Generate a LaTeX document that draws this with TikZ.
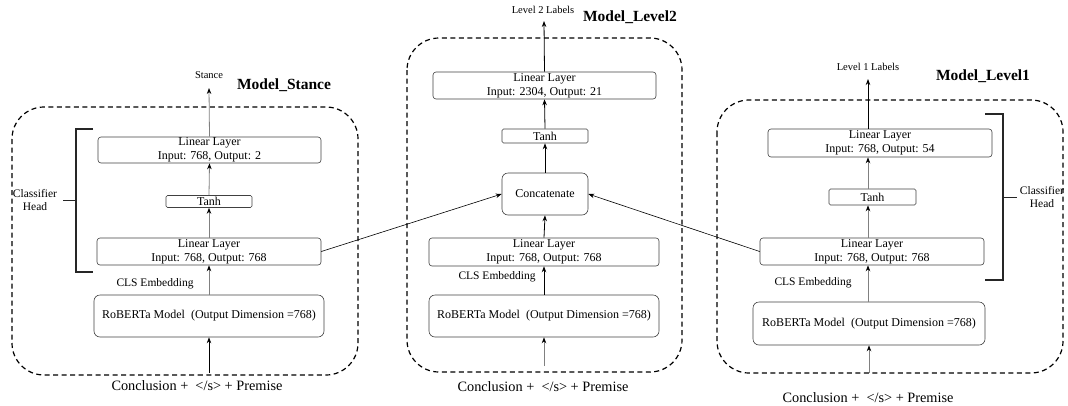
\documentclass[tikz,border=0pt]{standalone}
\usepackage{fontspec}
\setmainfont{Liberation Serif}
\usetikzlibrary{arrows.meta}
\begin{document}
\begin{tikzpicture}[x=1pt,y=-1pt,
  box/.style={draw=black!75, line width=0.6pt, rounded corners=3pt, inner sep=0pt, align=center, font=\fontsize{12}{14}\selectfont},
  bigbox/.style={box, rounded corners=6pt},
  txt/.style={inner sep=0pt, align=center},
  arr/.style={-{Stealth[length=6pt,width=4.5pt,color=black]}, line width=0.8pt},
  garr/.style={arr, draw=black!50},
  container/.style={draw=black, line width=1.2pt, dash pattern=on 5pt off 3.5pt, rounded corners=32pt},
  bracket/.style={draw=black!85, line width=1.4pt},
  title/.style={txt, font=\fontsize{15.5}{18}\selectfont\bfseries},
  lab/.style={txt, font=\fontsize{10.5}{12}\selectfont},
  cls/.style={txt, font=\fontsize{11.5}{13}\selectfont},
  inp/.style={txt, font=\fontsize{14.3}{16}\selectfont}
]
\useasboundingbox (0,0) rectangle (1068,405);

% ---------------- Left: Model_Stance ----------------
\draw[container] (12,107) rectangle (358,375);
\node[box, minimum width=223pt, minimum height=26pt] (Lout) at (209.5,150) {Linear Layer\\Input: 768, Output: 2};
\node[box, minimum width=86pt, minimum height=12pt, rounded corners=1.5pt] (Ltanh) at (209,201.5) {Tanh};
\node[box, minimum width=224pt, minimum height=27pt] (Llin) at (209,251.5) {Linear Layer\\Input: 768, Output: 768};
\node[bigbox, minimum width=230pt, minimum height=42pt] (Lrob) at (209,316) {RoBERTa Model\ \ (Output Dimension =768)};
\node[lab] (Lstance) at (209,75) {Stance};
\coordinate (Ltop) at (209,88);
\node[title] (Ltitle) at (284,85) {Model\_Stance};
\node[cls] (Lcls) at (155,284) {CLS Embedding};
\coordinate (Lin) at (209,373);
\node[inp] (Linp) at (197,386) {Conclusion +\ \ </s> + Premise};
\draw[garr] (Lout.north) -- (Ltop);
\draw[garr] (Ltanh.north) -- (Lout.south);
\draw[garr] (Llin.north) -- (Ltanh.south);
\draw[garr] (Lrob.north) -- (Llin.south);
\draw[arr] (Lin) -- (Lrob.south);
% bracket
\coordinate (Lbt) at (76,129);
\coordinate (Lbb) at (76,272);
\coordinate (Lbm) at (76,200);
\draw[bracket] (93,129) -- (Lbt) -- (Lbb) -- (93,272);
\node[cls] (Lhead) at (35,200) {Classifier\\Head};
\draw[bracket, line width=1pt] (Lbm) -- (63,200);

% ---------------- Middle: Model_Level2 ----------------
\draw[container] (407,38) rectangle (682,372);
\node[box, minimum width=223pt, minimum height=27pt] (Mout) at (544.5,85.5) {Linear Layer\\Input: 2304, Output: 21};
\node[box, minimum width=86pt, minimum height=14pt, rounded corners=1.5pt] (Mtanh) at (545,136) {Tanh};
\node[bigbox, minimum width=86pt, minimum height=42pt] (Mcat) at (545,194) {Concatenate};
\node[box, minimum width=230pt, minimum height=28pt] (Mlin) at (544,252) {Linear Layer\\Input: 768, Output: 768};
\node[bigbox, minimum width=230pt, minimum height=42pt] (Mrob) at (544,316) {RoBERTa Model\ \ (Output Dimension =768)};
\node[lab] (Mlabel) at (543,10) {Level 2 Labels};
\coordinate (Mtop) at (544,21);
\node[title] (Mtitle) at (630,17) {Model\_Level2};
\node[cls] (Mcls) at (497,277) {CLS Embedding};
\coordinate (Min) at (544,366);
\node[inp] (Minp) at (543,387) {Conclusion +\ \ </s> + Premise};
\draw[arr] (Mout.north) -- (Mtop);
\draw[arr] (Mtanh.north) -- (Mout.south);
\draw[arr] (Mcat.north) -- (Mtanh.south);
\draw[arr] (Mlin.north) -- (Mcat.south);
\draw[arr] (Mrob.north) -- (Mlin.south);
\draw[garr] (Min) -- (Mrob.south);

% ---------------- Right: Model_Level1 ----------------
\draw[container] (717,100) rectangle (1063,373);
\coordinate (rx) at (868,0);
\node[box, minimum width=224pt, minimum height=28pt] (Rout) at (880,143) {Linear Layer\\Input: 768, Output: 54};
\node[box, minimum width=87pt, minimum height=16pt, rounded corners=1.5pt] (Rtanh) at (872.5,197) {Tanh};
\node[box, minimum width=224pt, minimum height=27pt] (Rlin) at (872,251.5) {Linear Layer\\Input: 768, Output: 768};
\node[bigbox, minimum width=232pt, minimum height=43pt] (Rrob) at (869,323.5) {RoBERTa Model\ \ (Output Dimension =768)};
\node[lab] (Rlabel) at (868,67) {Level 1 Labels};
\coordinate (Rtop) at (868,79);
\node[title] (Rtitle) at (983,76) {Model\_Level1};
\node[cls] (Rcls) at (813,283) {CLS Embedding};
\coordinate (Rin) at (869,373);
\node[inp] (Rinp) at (868,398) {Conclusion +\ \ </s> + Premise};
\draw[arr] (Rout.north -| rx) -- (Rtop);
\draw[garr] (Rtanh.north -| rx) -- (Rout.south -| rx);
\draw[garr] (Rlin.north -| rx) -- (Rtanh.south -| rx);
\draw[garr] (Rrob.north -| rx) -- (Rlin.south -| rx);
\draw[garr] (Rin) -- (Rrob.south);
% bracket
\coordinate (Rbt) at (1003,114);
\coordinate (Rbb) at (1003,280);
\coordinate (Rbm) at (1003,197);
\draw[bracket] (985,114) -- (Rbt) -- (Rbb) -- (985,280);
\node[cls] (Rhead) at (1042,197) {Classifier\\Head};
\draw[bracket, line width=1pt] (Rbm) -- (1017,197);

% ---------------- Cross connections ----------------
\draw[arr, line width=0.6pt] (Llin.east) -- (Mcat.west);
\draw[arr, line width=0.6pt] (Rlin.west) -- (Mcat.east);
\end{tikzpicture}
\end{document}
